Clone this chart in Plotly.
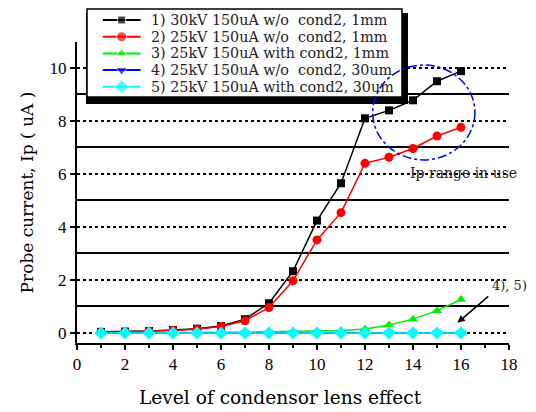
import plotly.graph_objects as go

# ---------------- data ----------------
levels = list(range(1, 17))
s1 = [0.04, 0.05, 0.07, 0.11, 0.16, 0.26, 0.52, 1.12, 2.33, 4.24, 5.65, 8.1, 8.4, 8.78, 9.5, 9.88]
s2 = [0.03, 0.04, 0.06, 0.09, 0.14, 0.24, 0.46, 0.96, 1.97, 3.51, 4.54, 6.4, 6.63, 6.96, 7.43, 7.76]
s3 = [0.01, 0.01, 0.01, 0.02, 0.02, 0.03, 0.03, 0.04, 0.05, 0.06, 0.09, 0.15, 0.3, 0.52, 0.84, 1.26]
s4 = [0.0] * 16
s5 = [0.0] * 16

names = [
    "1) 30kV 150uA w/o\u00a0 cond2, 1mm",
    "2) 25kV 150uA w/o\u00a0 cond2, 1mm",
    "3) 25kV 150uA with cond2, 1mm",
    "4) 25kV 150uA w/o\u00a0 cond2, 30um",
    "5) 25kV 150uA with cond2, 30um",
]
x_title = "Level of condensor lens effect"
y_title = "Probe current, Ip ( uA )"
range_label = "Ip range in use"
arrow_label = "4), 5)"

# ---------------- styles ----------------
colors = ["#000000", "#ff0000", "#00ee00", "#0000ff", "#00ffff"]
symbols = ["square", "circle", "triangle-up", "triangle-down", "diamond"]
sizes = [8, 9, 9, 9, 10]
legend_sizes = [8, 10, 10, 10, 11]
series = [s1, s2, s3, s4, s5]

SERIF = "DejaVu Serif"
TSERIF = "Liberation Serif"

# legend box geometry (paper coords)
LBX0, LBX1 = 0.02315, 0.7523
LBY0, LBY1 = 0.7343, 1.0
legend_sample_x = [0.05, 0.11, 0.17]

fig = go.Figure()
for ys, c, sym, sz in zip(series, colors, symbols, sizes):
    fig.add_trace(go.Scatter(
        x=levels, y=ys, mode="lines+markers", showlegend=False,
        line=dict(color=c, width=1.5),
        marker=dict(symbol=sym, size=sz, color=c),
    ))

# hand-built legend in its own small subplot
for nm, c, sym, sz in zip(names, colors, symbols, legend_sizes):
    fig.add_trace(go.Scatter(
        x=legend_sample_x, y=[nm] * 3, xaxis="x2", yaxis="y2",
        mode="lines+markers", showlegend=False, hoverinfo="skip",
        line=dict(color=c, width=2),
        marker=dict(symbol=sym, size=[0, sz, 0], color=c),
    ))

fig.update_layout(
    width=536, height=412,
    margin=dict(l=69, r=35, t=0, b=77),
    plot_bgcolor="white", paper_bgcolor="white",
    font=dict(family=SERIF, color="black", size=14),
    showlegend=False,
    xaxis=dict(
        range=[0, 18], dtick=2, tick0=0,
        showline=True, linecolor="black", linewidth=2,
        ticks="outside", ticklen=5, tickwidth=1.5, tickcolor="black",
        minor=dict(dtick=1, ticks="outside", ticklen=3, tickwidth=1.5, tickcolor="black"),
        showgrid=False, zeroline=False,
        tickfont=dict(family=TSERIF, size=17),
    ),
    yaxis=dict(
        domain=[0, 0.8985],
        range=[-0.38, 10.98], dtick=2, tick0=0,
        showline=True, linecolor="black", linewidth=2,
        ticks="outside", ticklen=5, tickwidth=1.5, tickcolor="black",
        showgrid=True, gridcolor="black", gridwidth=1.5, griddash="dot",
        minor=dict(dtick=1, showgrid=True, gridcolor="black", gridwidth=1.5, griddash="solid"),
        zeroline=False,
        tickfont=dict(family=TSERIF, size=17),
        title=dict(text=y_title, font=dict(family=SERIF, size=17), standoff=12),
    ),
    xaxis2=dict(
        domain=[LBX0, LBX1], range=[0, 1], anchor="y2", visible=False,
    ),
    yaxis2=dict(
        domain=[LBY0, LBY1], type="category", categoryorder="array",
        categoryarray=names, range=[4.611, -0.7185],
        tickmode="array", tickvals=names, ticktext=names,
        anchor="free", position=0.162,
        showline=False, showgrid=False, zeroline=False, ticks="",
        ticklabelposition="inside",
        tickfont=dict(family=SERIF, size=14.3, color="#222222"),
    ),
)

# legend shadow (below) and border (above)
fig.add_shape(type="rect", xref="paper", yref="paper",
              x0=0.0208, x1=0.7662, y0=0.7134, y1=0.985,
              fillcolor="black", line=dict(width=0), layer="below")
fig.add_shape(type="rect", xref="paper", yref="paper",
              x0=LBX0, x1=LBX1, y0=LBY0, y1=0.997,
              fillcolor="rgba(0,0,0,0)", line=dict(color="black", width=1.5), layer="above")

# "Ip range in use" ellipse
fig.add_shape(type="circle", xref="x", yref="y",
              x0=12.32, x1=16.58, y0=6.53, y1=10.11,
              line=dict(color="#0000ee", width=1.5, dash="dashdot"), layer="above")

fig.add_annotation(x=16.1, y=6.04, xref="x", yref="y", text=range_label,
                   showarrow=False, font=dict(family=SERIF, size=14, color="#222222"))
fig.add_annotation(x=1.0, y=0.172, xref="paper", yref="paper", text=arrow_label,
                   xanchor="center", yanchor="middle",
                   showarrow=False, font=dict(family=SERIF, size=13, color="#222222"))
fig.add_annotation(x=15.85, y=0.38, ax=17.2, ay=1.43, xref="x", yref="y",
                   axref="x", ayref="y", text="", showarrow=True,
                   arrowhead=2, arrowsize=1, arrowwidth=1.5, arrowcolor="black")

# x-axis title
fig.add_annotation(x=0.472, y=-0.164, xref="paper", yref="paper", text=x_title,
                   xanchor="center", yanchor="middle",
                   showarrow=False, font=dict(family=SERIF, size=18.6, color="black"))

fig.write_html("out.html")
